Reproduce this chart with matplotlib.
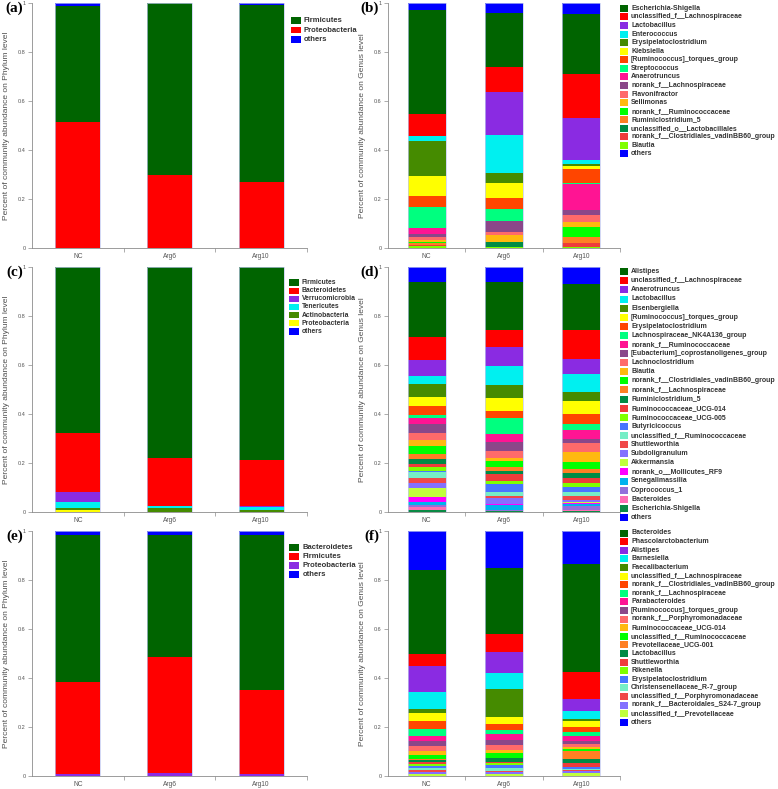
import numpy as np
import matplotlib
matplotlib.use("Agg")
import matplotlib.pyplot as plt
from matplotlib.patches import Rectangle

plt.rcParams['font.family'] = ['Liberation Sans', 'DejaVu Sans']

samples = ["NC", "Arg6", "Arg10"]

# colour by legend position (same scheme in every panel), "others" always blue
palette = ['#006400', '#FF0000', '#8A2BE2', '#00F0F0', '#458B00', '#FFFF00',
           '#FF4500', '#00FF7F', '#FF1493', '#8B4789', '#FF6A6A', '#FFB90F',
           '#00FF00', '#FF7F24', '#008B45', '#EE3B3B', '#7FFF00', '#4876FF',
           '#76EEC6', '#F04848', '#8470FF', '#C0FF3E', '#FF00FF', '#00B2EE',
           '#9370DB', '#FF6EB4', '#0A8A45']
others_color = '#0000FF'

# (a) phylum
a_taxa = ["Firmicutes", "Proteobacteria", "others"]
a_NC = [0.470, 0.516, 0.014]
a_Arg6 = [0.702, 0.296, 0.002]
a_Arg10 = [0.721, 0.271, 0.008]

# (b) genus
b_taxa = ["Escherichia-Shigella", "unclassified_f__Lachnospiraceae", "Lactobacillus",
          "Enterococcus", "Erysipelatoclostridium", "Klebsiella",
          "[Ruminococcus]_torques_group", "Streptococcus", "Anaerotruncus",
          "norank_f__Lachnospiraceae", "Flavonifractor", "Sellimonas",
          "norank_f__Ruminococcaceae", "Ruminiclostridium_5",
          "unclassified_o__Lactobacillales", "norank_f__Clostridiales_vadinBB60_group",
          "Blautia", "others"]
b_NC = [0.424, 0.088, 0.0, 0.023, 0.141, 0.084, 0.043, 0.086, 0.023, 0.015,
        0.010, 0.011, 0.004, 0.005, 0.003, 0.003, 0.008, 0.030]
b_Arg6 = [0.224, 0.102, 0.173, 0.158, 0.039, 0.064, 0.042, 0.049, 0.0, 0.046,
          0.012, 0.029, 0.0, 0.0, 0.022, 0.0, 0.003, 0.039]
b_Arg10 = [0.247, 0.181, 0.170, 0.016, 0.007, 0.012, 0.058, 0.003, 0.106, 0.022,
           0.030, 0.019, 0.043, 0.024, 0.0, 0.014, 0.005, 0.043]

# (c) phylum
c_taxa = ["Firmicutes", "Bacteroidetes", "Verrucomicrobia", "Tenericutes",
          "Actinobacteria", "Proteobacteria", "others"]
c_NC = [0.675, 0.243, 0.041, 0.023, 0.008, 0.009, 0.001]
c_Arg6 = [0.779, 0.196, 0.0, 0.007, 0.016, 0.001, 0.001]
c_Arg10 = [0.786, 0.188, 0.005, 0.010, 0.009, 0.001, 0.001]

# (d) genus
d_taxa = ["Alistipes", "unclassified_f__Lachnospiraceae", "Anaerotruncus",
          "Lactobacillus", "Eisenbergiella", "[Ruminococcus]_torques_group",
          "Erysipelatoclostridium", "Lachnospiraceae_NK4A136_group",
          "norank_f__Ruminococcaceae", "[Eubacterium]_coprostanoligenes_group",
          "Lachnoclostridium", "Blautia", "norank_f__Clostridiales_vadinBB60_group",
          "norank_f__Lachnospiraceae", "Ruminiclostridium_5", "Ruminococcaceae_UCG-014",
          "Ruminococcaceae_UCG-005", "Butyricicoccus", "unclassified_f__Ruminococcaceae",
          "Shuttleworthia", "Subdoligranulum", "Akkermansia", "norank_o__Mollicutes_RF9",
          "Senegalimassilia", "Coprococcus_1", "Bacteroides", "Escherichia-Shigella",
          "others"]
d_NC = [0.226, 0.091, 0.068, 0.031, 0.055, 0.037, 0.037, 0.010, 0.026, 0.035,
        0.029, 0.025, 0.034, 0.019, 0.020, 0.011, 0.018, 0.005, 0.025, 0.018,
        0.020, 0.037, 0.020, 0.014, 0.007, 0.011, 0.010, 0.061]
d_Arg6 = [0.195, 0.071, 0.076, 0.078, 0.052, 0.053, 0.030, 0.065, 0.033, 0.038,
          0.026, 0.015, 0.022, 0.016, 0.015, 0.027, 0.012, 0.033, 0.015, 0.007,
          0.025, 0.0, 0.005, 0.022, 0.003, 0.0, 0.004, 0.061]
d_Arg10 = [0.186, 0.120, 0.059, 0.075, 0.035, 0.052, 0.044, 0.025, 0.034, 0.019,
           0.037, 0.038, 0.029, 0.015, 0.022, 0.019, 0.020, 0.018, 0.016, 0.019,
           0.007, 0.004, 0.005, 0.007, 0.015, 0.005, 0.004, 0.071]

# (e) phylum
e_taxa = ["Bacteroidetes", "Firmicutes", "Proteobacteria", "others"]
e_NC = [0.599, 0.378, 0.007, 0.016]
e_Arg6 = [0.499, 0.473, 0.012, 0.016]
e_Arg10 = [0.633, 0.344, 0.007, 0.016]

# (f) genus
f_taxa = ["Bacteroides", "Phascolarctobacterium", "Alistipes", "Barnesiella",
          "Faecalibacterium", "unclassified_f__Lachnospiraceae",
          "norank_f__Clostridiales_vadinBB60_group", "norank_f__Lachnospiraceae",
          "Parabacteroides", "[Ruminococcus]_torques_group", "norank_f__Porphyromonadaceae",
          "Ruminococcaceae_UCG-014", "unclassified_f__Ruminococcaceae",
          "Prevotellaceae_UCG-001", "Lactobacillus", "Shuttleworthia", "Rikenella",
          "Erysipelatoclostridium", "Christensenellaceae_R-7_group",
          "unclassified_f__Porphyromonadaceae", "norank_f__Bacteroidales_S24-7_group",
          "unclassified_f__Prevotellaceae", "others"]
f_NC = [0.343, 0.050, 0.106, 0.068, 0.019, 0.033, 0.030, 0.030, 0.019, 0.022,
        0.019, 0.019, 0.015, 0.005, 0.008, 0.007, 0.010, 0.007, 0.007, 0.007,
        0.010, 0.008, 0.159]
f_Arg6 = [0.268, 0.075, 0.083, 0.065, 0.118, 0.026, 0.027, 0.015, 0.023, 0.020,
          0.020, 0.014, 0.022, 0.0, 0.014, 0.004, 0.011, 0.011, 0.010, 0.007,
          0.007, 0.008, 0.152]
f_Arg10 = [0.442, 0.109, 0.048, 0.033, 0.010, 0.024, 0.018, 0.016, 0.024, 0.010,
           0.011, 0.011, 0.008, 0.033, 0.016, 0.014, 0.003, 0.005, 0.005, 0.003,
           0.008, 0.014, 0.136]

W, H = 778, 789
fig = plt.figure(figsize=(W / 100, H / 100), dpi=100)


def px(x, y):
    return x / W, 1 - y / H


def draw(left, right, top, bottom, taxa, cols, level, letter, leg):
    ax = fig.add_axes([left / W, 1 - bottom / H, (right - left) / W, (bottom - top) / H])
    x = np.arange(len(samples))
    data = np.array(cols, dtype=float)
    data = data / data.sum(axis=1, keepdims=True)
    n = len(taxa)
    # stacked bottom-up in reverse legend order, "others" on top
    order = list(range(n - 2, -1, -1)) + [n - 1]
    base = np.zeros(len(samples))
    for i in order:
        col = others_color if taxa[i] == "others" else palette[i]
        ax.bar(x, data[:, i], width=0.49, bottom=base, color=col, linewidth=0)
        base += data[:, i]
    ax.bar(x, base, width=0.49, fill=False, edgecolor='#c0c8f0', linewidth=0.5)

    ax.set_xlim(-0.5, 2.5)
    ax.set_ylim(0, 1)
    for s in ["top", "right"]:
        ax.spines[s].set_visible(False)
    for s in ["left", "bottom"]:
        ax.spines[s].set_color('#8c8c8c')
        ax.spines[s].set_linewidth(0.6)
    ax.set_yticks([0, 0.2, 0.4, 0.6, 0.8, 1.0])
    ax.set_yticklabels(["0", "0.2", "0.4", "0.6", "0.8", "1"])
    ax.tick_params(axis='y', length=3, width=0.5, color='#8c8c8c',
                   labelsize=4, labelcolor='#555555', pad=1.5)
    ax.set_xticks(x)
    ax.set_xticklabels(samples)
    ax.tick_params(axis='x', length=0, labelsize=4.8, labelcolor='#555555', pad=3.5)
    ax.set_xticks([0.5, 1.5, 2.5], minor=True)
    ax.tick_params(axis='x', which='minor', length=3, width=0.5, color='#8c8c8c')
    ax.set_ylabel("Percent of community abundance on %s level" % level,
                  fontsize=6, color='#505050')
    ax.yaxis.set_label_coords(-22 / (right - left), 0.5)

    lx, ly = px(left - 9, top + 5)
    fig.text(lx, ly, letter, ha='right', va='center', fontsize=11,
             fontweight='bold', family=['Liberation Serif', 'DejaVu Serif'])

    sx, tx, y0, pitch, sw, sh, fs = leg
    for i, name in enumerate(taxa):
        col = others_color if name == "others" else palette[i]
        yc = y0 + i * pitch
        fig.add_artist(Rectangle(px(sx, yc + sh / 2), sw / W, sh / H,
                                 transform=fig.transFigure, facecolor=col,
                                 edgecolor='none'))
        tx_, ty_ = px(tx, yc)
        fig.text(tx_, ty_, name, ha='left', va='center', fontsize=fs,
                 fontweight='bold', color='#333333')
    return ax


draw(32, 307, 3, 248, a_taxa, [a_NC, a_Arg6, a_Arg10], "Phylum", "(a)",
     (291, 304, 20.7, 9.3, 10, 6.5, 5.5))
draw(388, 620, 3, 248, b_taxa, [b_NC, b_Arg6, b_Arg10], "Genus", "(b)",
     (620, 631, 8.3, 8.57, 8, 7, 5))
draw(32, 307, 267, 512, c_taxa, [c_NC, c_Arg6, c_Arg10], "Phylum", "(c)",
     (289, 301.5, 282.7, 8.1, 10, 6.5, 4.9))
draw(388, 620, 267, 512, d_taxa, [d_NC, d_Arg6, d_Arg10], "Genus", "(d)",
     (620, 631, 271.7, 9.1, 8, 7, 5))
draw(32, 307, 531, 776, e_taxa, [e_NC, e_Arg6, e_Arg10], "Phylum", "(e)",
     (289, 302.5, 547.7, 9.0, 10, 6.5, 5.5))
draw(388, 620, 531, 776, f_taxa, [f_NC, f_Arg6, f_Arg10], "Genus", "(f)",
     (620, 631, 533, 8.6, 8, 7, 5))

fig.savefig("out.png", dpi=100)
